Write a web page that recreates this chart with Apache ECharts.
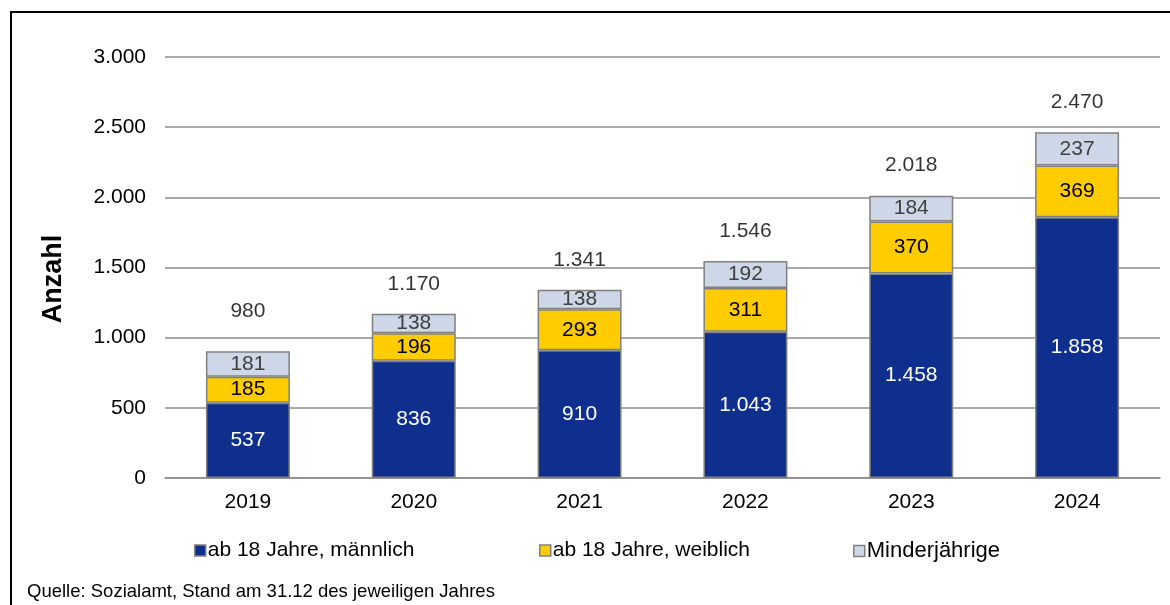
<!DOCTYPE html>
<html>
<head>
<meta charset="utf-8">
<script src="https://cdn.jsdelivr.net/npm/echarts@6/dist/echarts.min.js"></script>
<style>
  html, body { margin: 0; padding: 0; background: #fff; }
  #chart { width: 1170px; height: 605px; }
</style>
</head>
<body>
<div id="chart"></div>
<script>
// Daten
const years = ["2019", "2020", "2021", "2022", "2023", "2024"];
const maennlich = [537, 836, 910, 1043, 1458, 1858];
const weiblich = [185, 196, 293, 311, 370, 369];
const minderjaehrige = [181, 138, 138, 192, 184, 237];
const gesamt = [980, 1170, 1341, 1546, 2018, 2470];
const seriesNames = ["ab 18 Jahre, männlich", "ab 18 Jahre, weiblich", "Minderjährige"];

const font = "Liberation Sans, Arial, sans-serif";
const fmt = v => String(v).replace(/\B(?=(\d{3})+(?!\d))/g, ".");

const chart = echarts.init(document.getElementById("chart"), null, { renderer: "canvas" });

function barSeries(name, data, color, labelColor) {
  return {
    name: name,
    type: "bar",
    stack: "total",
    barWidth: 84,
    data: data,
    itemStyle: { color: color, borderColor: "#808080", borderWidth: 1.5 },
    label: {
      show: true,
      position: "inside",
      color: labelColor,
      fontFamily: font,
      fontSize: 21,
      formatter: p => fmt(p.value)
    }
  };
}

// eine Legende je Reihe, damit die Abstände wie im Original sitzen
const legendLeft = [189, 534, 848];
const legends = seriesNames.map((n, i) => ({
  left: legendLeft[i],
  top: 535,
  itemWidth: 11,
  itemHeight: 11,
  icon: "rect",
  data: [n],
  itemStyle: { borderColor: "#808080", borderWidth: 1.5 },
  textStyle: { fontFamily: font, fontSize: i === 2 ? 22 : 21, color: "#000", padding: [0, 0, 0, -3] }
}));

chart.setOption({
  animation: false,
  grid: { left: 165, right: 10, top: 57, bottom: 127 },
  legend: legends,
  xAxis: {
    type: "category",
    data: years,
    axisLine: { lineStyle: { color: "#8c8c8c", width: 1.5 } },
    axisTick: { show: false },
    axisLabel: { color: "#000", fontFamily: font, fontSize: 21, margin: 14 }
  },
  yAxis: {
    type: "value",
    min: 0,
    max: 3000,
    interval: 500,
    axisLine: { show: false },
    axisTick: { show: false },
    splitLine: { lineStyle: { color: "#8c8c8c", width: 1.5 } },
    axisLabel: { color: "#000", fontFamily: font, fontSize: 21, margin: 19, formatter: fmt }
  },
  series: [
    barSeries(seriesNames[0], maennlich, "#0f2f8f", "#ffffff"),
    barSeries(seriesNames[1], weiblich, "#ffcc00", "#000000"),
    barSeries(seriesNames[2], minderjaehrige, "#cdd7e7", "#404040"),
    {
      name: "Gesamt",
      type: "scatter",
      data: gesamt,
      symbolSize: 0,
      silent: true,
      label: {
        show: true,
        position: "top",
        distance: 19,
        color: "#000",
        fontFamily: font,
        fontSize: 21,
        formatter: p => fmt(p.value)
      }
    }
  ],
  graphic: [
    {
      type: "polyline",
      shape: { points: [[11, 605], [11, 12], [1170, 12]] },
      style: { stroke: "#000", lineWidth: 2, fill: null }
    },
    {
      type: "text",
      x: 54,
      y: 279,
      rotation: Math.PI / 2,
      style: {
        text: "Anzahl",
        fontFamily: font,
        fontSize: 27,
        fontWeight: "bold",
        fill: "#000",
        align: "center",
        verticalAlign: "middle"
      }
    },
    {
      type: "text",
      x: 27,
      y: 592,
      style: {
        text: "Quelle: Sozialamt, Stand am 31.12 des jeweiligen Jahres",
        fontFamily: font,
        fontSize: 18.5,
        fill: "#000",
        verticalAlign: "middle"
      }
    }
  ]
});
</script>
</body>
</html>
